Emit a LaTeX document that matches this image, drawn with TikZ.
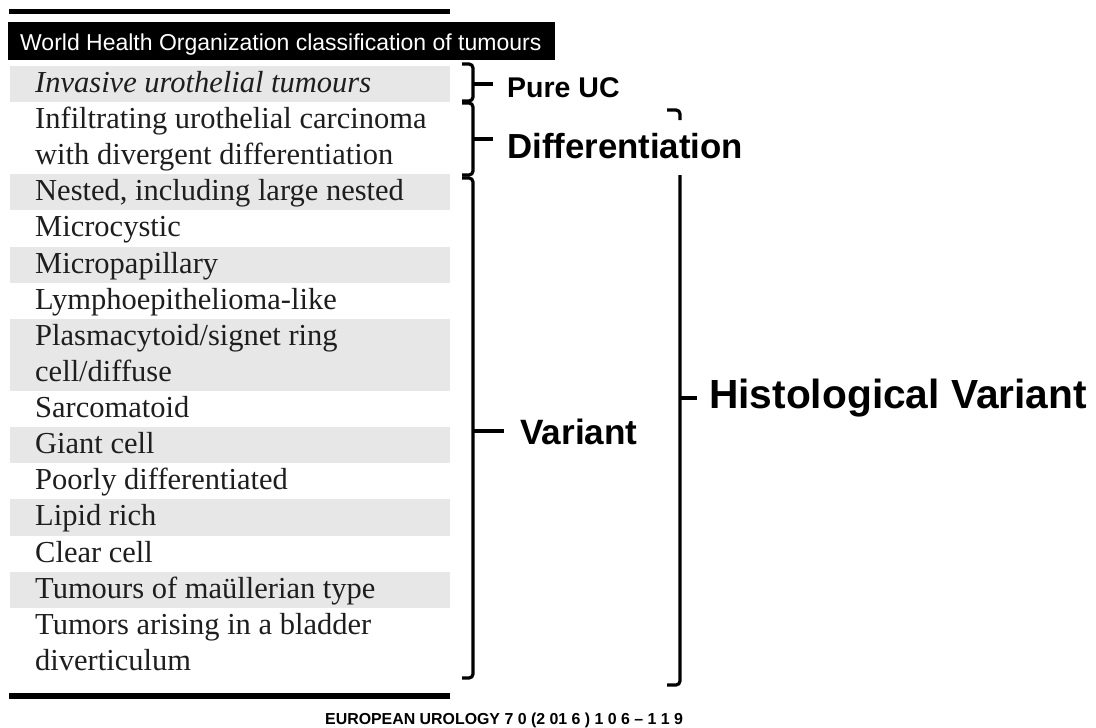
\documentclass[tikz,border=0pt]{standalone}
\usepackage{fontspec}
\setmainfont{Liberation Serif}
\newfontfamily\arial{Liberation Sans}
\definecolor{band}{RGB}{231,231,231}
\definecolor{ink}{RGB}{30,30,30}
\begin{document}
\begin{tikzpicture}[x=1pt,y=-1pt,
  rowtext/.style={anchor=base west, inner sep=0pt, text=ink, font=\fontsize{30.5}{36}\selectfont},
  labtext/.style={anchor=base west, inner sep=0pt, text=black},
  bracepath/.style={line width=3.2pt, rounded corners=4pt, line cap=butt},
  ticks/.style={line width=3.2pt},
  rulebar/.style={line width=5.5pt}]
\useasboundingbox (0,0) rectangle (1096,728);

% gray bands
\foreach \a/\b in {0/1,3/4,5/6,7/9,10/11,12/13,14/15}
  \fill[band] (10,{66+36.12*\a}) rectangle (450,{66+36.12*\b});

% rules
\coordinate (t1) at (9,11.5); \coordinate (t2) at (450,11.5);
\draw[rulebar] (t1) -- (t2);
\coordinate (b1) at (9,696); \coordinate (b2) at (450,696);
\draw[rulebar, line width=6.5pt] (b1) -- (b2);

% header
\node (hdr) [fill=black, anchor=north west, minimum width=547pt, minimum height=38pt, inner sep=0pt] at (8,22) {};
\node (hdrtext) [anchor=base west, inner sep=0pt, text=white, font=\arial\fontsize{23}{26}\selectfont] at (20,50) {World Health Organization classification of tumours};

% rows
\newcommand{\rowy}[1]{66+36.12*#1+26.5}
\node[rowtext] (r0) at (35,{\rowy{0}}) {\itshape Invasive urothelial tumours};
\node[rowtext] (r1) at (35,{\rowy{1}}) {Infiltrating urothelial carcinoma};
\node[rowtext] (r2) at (35,{\rowy{2}}) {with divergent differentiation};
\node[rowtext] (r3) at (35,{\rowy{3}}) {Nested, including large nested};
\node[rowtext] (r4) at (35,{\rowy{4}}) {Microcystic};
\node[rowtext] (r5) at (35,{\rowy{5}}) {Micropapillary};
\node[rowtext] (r6) at (35,{\rowy{6}}) {Lymphoepithelioma-like};
\node[rowtext] (r7) at (35,{\rowy{7}}) {Plasmacytoid/signet ring};
\node[rowtext] (r8) at (35,{\rowy{8}}) {cell/diffuse};
\node[rowtext] (r9) at (35,{\rowy{9}}) {Sarcomatoid};
\node[rowtext] (r10) at (35,{\rowy{10}}) {Giant cell};
\node[rowtext] (r11) at (35,{\rowy{11}}) {Poorly differentiated};
\node[rowtext] (r12) at (35,{\rowy{12}}) {Lipid rich};
\node[rowtext] (r13) at (35,{\rowy{13}}) {Clear cell};
\node[rowtext] (r14) at (35,{\rowy{14}}) {Tumours of maüllerian type};
\node[rowtext] (r15) at (35,{\rowy{15}}) {Tumors arising in a bladder};
\node[rowtext] (r16) at (35,{\rowy{16}}) {diverticulum};

% labels
\node[labtext, font=\arial\bfseries\fontsize{28.5}{32}\selectfont] (pure) at (507,97) {Pure UC};
\node[labtext, font=\arial\bfseries\fontsize{34.8}{40}\selectfont] (diff) at (507,158) {Differentiation};
\node[labtext, font=\arial\bfseries\fontsize{35.2}{40}\selectfont] (var) at (520,444) {Variant};
\node[labtext, font=\arial\bfseries\fontsize{40.7}{46}\selectfont] (hist) at (709,408) {Histological Variant};
\node[labtext, font=\arial\bfseries\fontsize{15.9}{18}\selectfont] (foot) at (325,724) {EUROPEAN UROLOGY 7 0 (2 01 6 ) 1 0 6 – 1 1 9};

% braces
\draw[bracepath] (462,64) -- (473,64) -- (473,101) -- (462,101);
\coordinate (m1) at (473,84); \coordinate (e1) at (493,84);
\draw[ticks] (m1) -- (e1);

\draw[bracepath] (462,103) -- (473,103) -- (473,175) -- (462,175);
\coordinate (m2) at (473,139); \coordinate (e2) at (493,139);
\draw[ticks] (m2) -- (e2);

\draw[bracepath] (462,178) -- (473,178) -- (473,678) -- (462,678);
\coordinate (m3) at (473,431); \coordinate (e3) at (504,431);
\draw[ticks] (m3) -- (e3);

\draw[bracepath] (667,110) -- (680,110) -- (680,120);
\draw[bracepath] (680,175) -- (680,685) -- (667,685);
\coordinate (m4) at (680,398); \coordinate (e4) at (697,398);
\draw[ticks] (m4) -- (e4);
\end{tikzpicture}
\end{document}
